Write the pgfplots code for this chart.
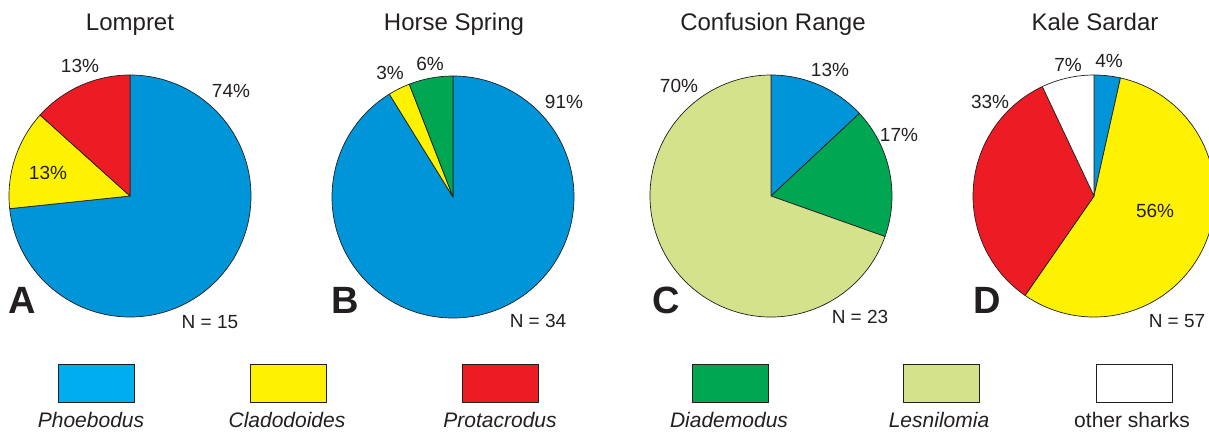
\documentclass[border=0pt]{standalone}
\usepackage{fontspec}
\setmainfont{Liberation Sans}
\usepackage{pgfplots}
\pgfplotsset{compat=1.18}
\definecolor{pblue}{RGB}{0,148,217}
\definecolor{lblue}{RGB}{0,174,239}
\definecolor{pyellow}{RGB}{255,242,0}
\definecolor{pred}{RGB}{237,28,36}
\definecolor{pgreen}{RGB}{0,166,81}
\definecolor{plgreen}{RGB}{212,226,140}
\definecolor{ink}{RGB}{35,31,32}
\def\R{121pt}
% #1 cumulative count before slice, #2 count, #3 total N, #4 colour
\newcommand\slice[4]{%
  \filldraw[fill=#4, draw=ink, line width=0.7pt, line join=round]
    (axis cs:0,0) -- ++({90-(#1)/(#3)*360}:\R)
    arc[start angle={90-(#1)/(#3)*360}, delta angle={-(#2)/(#3)*360}, radius=\R] -- cycle;}
\pgfplotsset{pie/.style={hide axis, scale only axis, width=242pt, height=242pt,
  xmin=-1, xmax=1, ymin=-1, ymax=1, anchor=center, clip=false}}
\tikzset{pct/.style={font=\fontsize{19}{19}\selectfont, text=ink, anchor=base, inner sep=0pt},
  ttl/.style={font=\fontsize{24}{24}\selectfont, text=ink, anchor=base, inner sep=0pt},
  let/.style={font=\fontsize{38}{38}\selectfont\bfseries, text=ink, anchor=base, inner sep=0pt},
  leg/.style={font=\fontsize{21}{21}\selectfont, text=ink, anchor=base, inner sep=0pt}}
\begin{document}
\begin{tikzpicture}
\path[use as bounding box] (0pt,0pt) rectangle (1209pt,-432pt);
% A: Lompret, N = 15
\begin{axis}[pie, at={(130pt,-196pt)}]
  \addplot[draw=none] coordinates {(0,0)};
  \slice{0}{11}{15}{pblue}
  \slice{11}{2}{15}{pyellow}
  \slice{13}{2}{15}{pred}
\end{axis}
% B: Horse Spring, N = 34
\begin{axis}[pie, at={(453pt,-197pt)}]
  \addplot[draw=none] coordinates {(0,0)};
  \slice{0}{31}{34}{pblue}
  \slice{31}{1}{34}{pyellow}
  \slice{32}{2}{34}{pgreen}
\end{axis}
% C: Confusion Range, N = 23
\begin{axis}[pie, at={(771pt,-196pt)}]
  \addplot[draw=none] coordinates {(0,0)};
  \slice{0}{3}{23}{pblue}
  \slice{3}{4}{23}{pgreen}
  \slice{7}{16}{23}{plgreen}
\end{axis}
% D: Kale Sardar, N = 57
\begin{axis}[pie, at={(1094pt,-196pt)}]
  \addplot[draw=none] coordinates {(0,0)};
  \slice{0}{2}{57}{pblue}
  \slice{2}{32}{57}{pyellow}
  \slice{34}{19}{57}{pred}
  \slice{53}{4}{57}{white}
\end{axis}
% titles
\node[ttl] at (130pt,-30pt) {Lompret};
\node[ttl] at (454pt,-30pt) {Horse Spring};
\node[ttl] at (773pt,-30pt) {Confusion Range};
\node[ttl] at (1095pt,-30pt) {Kale Sardar};
% percentages
\node[pct] at (231pt,-97pt) {74\%};
\node[pct] at (80pt,-72pt) {13\%};
\node[pct] at (48pt,-179pt) {13\%};
\node[pct] at (564pt,-108pt) {91\%};
\node[pct] at (390pt,-79pt) {3\%};
\node[pct] at (430pt,-70pt) {6\%};
\node[pct] at (830pt,-76pt) {13\%};
\node[pct] at (899pt,-141pt) {17\%};
\node[pct] at (679pt,-92pt) {70\%};
\node[pct] at (1109pt,-67pt) {4\%};
\node[pct] at (1068pt,-71pt) {7\%};
\node[pct] at (990pt,-108pt) {33\%};
\node[pct] at (1155pt,-217pt) {56\%};
% N labels
\node[pct] at (210pt,-328pt) {N = 15};
\node[pct] at (538pt,-327pt) {N = 34};
\node[pct] at (860pt,-323pt) {N = 23};
\node[pct] at (1177pt,-327pt) {N = 57};
% letters
\node[let] at (22pt,-313pt) {A};
\node[let] at (345pt,-313pt) {B};
\node[let] at (666pt,-313pt) {C};
\node[let] at (987pt,-313pt) {D};
% legend
\foreach \cx/\col/\lx/\lab in {96/lblue/91/\itshape Phoebodus, 288/pyellow/287/\itshape Cladodoides,
  500/pred/500/\itshape Protacrodus, 730/pgreen/729/\itshape Diademodus,
  941/plgreen/939/\itshape Lesnilomia, 1134/white/1132/other sharks}{
  \filldraw[fill=\col, draw=ink, line width=0.8pt] (\cx pt-38pt,-364pt) rectangle (\cx pt+38pt,-402pt);
  \node[leg] at (\lx pt,-427pt) {\lab};
}
\end{tikzpicture}
\end{document}
